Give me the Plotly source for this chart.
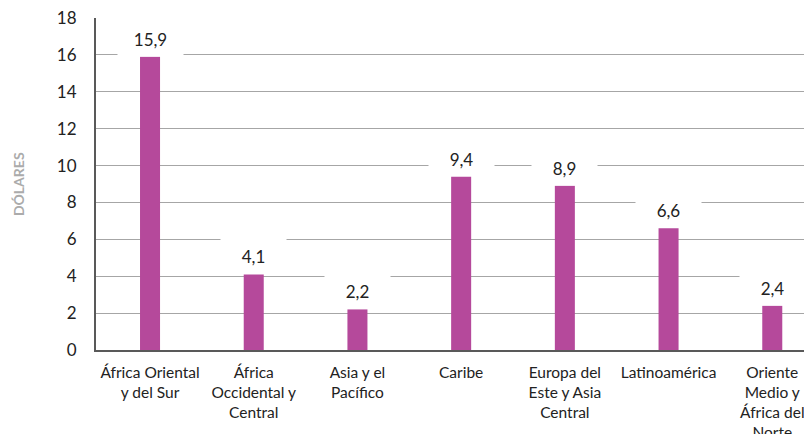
import plotly.graph_objects as go

categories = [
    "África Oriental<br>y del Sur",
    "África<br>Occidental y<br>Central",
    "Asia y el<br>Pacífico",
    "Caribe",
    "Europa del<br>Este y Asia<br>Central",
    "Latinoamérica",
    "Oriente<br>Medio y<br>África del<br>Norte",
]
values = [15.9, 4.1, 2.2, 9.4, 8.9, 6.6, 2.4]
value_labels = ["15,9", "4,1", "2,2", "9,4", "8,9", "6,6", "2,4"]
y_ticks = [0, 2, 4, 6, 8, 10, 12, 14, 16, 18]

FONT = "Lato, 'Noto Sans', sans-serif"
x_idx = list(range(len(categories)))

fig = go.Figure()
fig.add_trace(go.Bar(
    x=x_idx, y=values, width=0.193,
    marker=dict(color="#B5499B", line=dict(width=0)),
    hoverinfo="skip",
))

annotations = []
for i, (v, lab) in enumerate(zip(values, value_labels)):
    annotations.append(dict(
        x=i, y=v, xref="x", yref="y", text=lab, showarrow=False,
        yanchor="middle", yshift=18, width=63, height=32,
        bgcolor="white", font=dict(family=FONT, size=17, color="#222222"),
    ))
annotations.append(dict(
    xref="paper", yref="paper", x=-0.110, y=0.5, text="<b>DÓLARES</b>",
    textangle=-90, showarrow=False, xanchor="center", yanchor="middle",
    font=dict(family=FONT, size=14, color="#ababab"),
))

fig.update_layout(
    width=804, height=434,
    margin=dict(l=96, r=0, t=18, b=84, autoexpand=False),
    paper_bgcolor="white", plot_bgcolor="white",
    showlegend=False,
    annotations=annotations,
    xaxis=dict(
        range=[-0.521, 6.306], tickmode="array", tickvals=x_idx, ticktext=categories,
        showgrid=False, zeroline=False, showline=True, linecolor="#595959", linewidth=2,
        ticks="", tickfont=dict(family=FONT, size=15.5, color="#222222"),
        tickangle=0, automargin=False, ticklabeloverflow="allow", ticklabelstandoff=7,
    ),
    yaxis=dict(
        range=[0, 18], tickmode="array", tickvals=y_ticks,
        showgrid=True, gridcolor="#a6a6a6", gridwidth=1,
        zeroline=False, showline=True, linecolor="#595959", linewidth=2,
        ticks="", ticklabelstandoff=14, automargin=False,
        tickfont=dict(family=FONT, size=17, color="#222222"),
    ),
)

fig.write_html(
    "out.html",
    config={"displayModeBar": False},
    post_script="document.body.style.margin='0';document.body.style.overflow='hidden';",
)
